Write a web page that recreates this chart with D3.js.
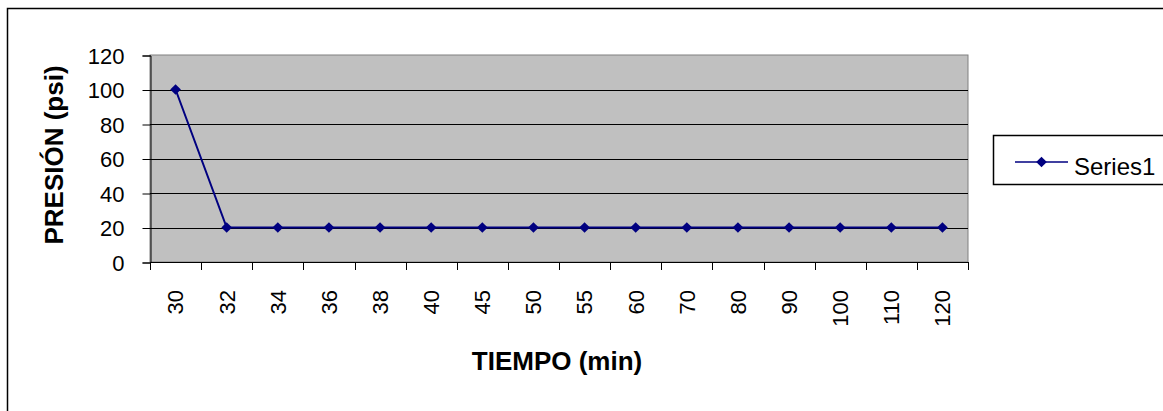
<!DOCTYPE html>
<html>
<head>
<meta charset="utf-8">
<script src="https://cdn.jsdelivr.net/npm/d3@7"></script>
<style>
  html, body { margin: 0; padding: 0; background: #fff; }
  svg { display: block; }
  text { font-family: "Liberation Sans", Arial, sans-serif; fill: #000; }
</style>
</head>
<body>
<svg id="chart" width="1163" height="411"></svg>
<script>
// Pressure readings over time
const tiempos = ["30", "32", "34", "36", "38", "40", "45", "50", "55", "60", "70", "80", "90", "100", "110", "120"];
const presion = [100, 20, 20, 20, 20, 20, 20, 20, 20, 20, 20, 20, 20, 20, 20, 20];
const yTicks = [0, 20, 40, 60, 80, 100, 120];
const seriesName = "Series1";
const xTitle = "TIEMPO (min)";
const yTitle = "PRESIÓN (psi)";

const svg = d3.select("#chart");

// outer chart frame (runs off the right and bottom edges)
svg.append("rect")
  .attr("x", 7.5).attr("y", 8.5)
  .attr("width", 1200).attr("height", 450)
  .attr("fill", "#fff").attr("stroke", "#000").attr("stroke-width", 1.5);

const plot = { left: 150, right: 968, top: 55, bottom: 262 };

const x = d3.scaleBand().domain(tiempos).range([plot.left, plot.right]).paddingInner(0).paddingOuter(0);
const y = d3.scaleLinear().domain([0, 120]).range([plot.bottom, plot.top]);

// plot area background
svg.append("rect")
  .attr("x", plot.left).attr("y", plot.top)
  .attr("width", plot.right - plot.left).attr("height", plot.bottom - plot.top)
  .attr("fill", "#C0C0C0").attr("stroke", "#808080").attr("stroke-width", 1);

// horizontal gridlines
svg.append("g")
  .selectAll("line")
  .data(yTicks.filter(d => d > 0 && d < 120))
  .join("line")
  .attr("x1", plot.left).attr("x2", plot.right)
  .attr("y1", d => Math.round(y(d)) + 0.5).attr("y2", d => Math.round(y(d)) + 0.5)
  .attr("stroke", "#000").attr("stroke-width", 1);

// y axis
const yAxis = d3.axisLeft(y).tickValues(yTicks).tickSize(8).tickPadding(18);
const gy = svg.append("g")
  .attr("transform", `translate(${plot.left + 0.5},0.5)`)
  .call(yAxis);
gy.select(".domain").attr("stroke", "#000");
gy.selectAll(".tick line").attr("stroke", "#000");
gy.selectAll(".tick text")
  .attr("font-family", "Liberation Sans, Arial, sans-serif")
  .attr("font-size", 22).attr("fill", "#000").attr("dy", "0.36em");

// x axis line and category boundary ticks
const gx = svg.append("g");
gx.append("line")
  .attr("x1", plot.left).attr("x2", plot.right)
  .attr("y1", plot.bottom + 0.5).attr("y2", plot.bottom + 0.5)
  .attr("stroke", "#000");
const bounds = tiempos.map(t => x(t)).concat([x(tiempos[tiempos.length - 1]) + x.bandwidth()]);
gx.selectAll("line.tk")
  .data(bounds)
  .join("line")
  .attr("class", "tk")
  .attr("x1", d => Math.round(d) + 0.5).attr("x2", d => Math.round(d) + 0.5)
  .attr("y1", plot.bottom).attr("y2", plot.bottom + 8)
  .attr("stroke", "#000");

// rotated category labels
gx.selectAll("text")
  .data(tiempos)
  .join("text")
  .attr("transform", d => `translate(${x(d) + x.bandwidth() / 2},290) rotate(-90)`)
  .attr("dy", "0.36em")
  .attr("text-anchor", "end")
  .attr("font-size", 22)
  .text(d => d);

// series line
const line = d3.line()
  .x((d, i) => x(tiempos[i]) + x.bandwidth() / 2)
  .y(d => y(d));
svg.append("path")
  .datum(presion)
  .attr("d", line)
  .attr("fill", "none")
  .attr("stroke", "#000080")
  .attr("stroke-width", 2);

// diamond markers
const diamond = d3.symbol().type(d3.symbolDiamond2).size(72);
svg.append("g")
  .selectAll("path")
  .data(presion)
  .join("path")
  .attr("transform", (d, i) => `translate(${x(tiempos[i]) + x.bandwidth() / 2},${y(d)})`)
  .attr("d", diamond)
  .attr("fill", "#000080");

// axis titles
svg.append("text")
  .attr("x", 557).attr("y", 370)
  .attr("text-anchor", "middle")
  .attr("font-size", 26).attr("font-weight", "bold")
  .text(xTitle);

svg.append("text")
  .attr("transform", "translate(63,155) rotate(-90)")
  .attr("text-anchor", "middle")
  .attr("font-size", 26).attr("font-weight", "bold")
  .text(yTitle);

// legend
const lg = svg.append("g");
lg.append("rect")
  .attr("x", 993.5).attr("y", 135.5)
  .attr("width", 250).attr("height", 49)
  .attr("fill", "#fff").attr("stroke", "#000").attr("stroke-width", 1.5);
lg.append("line")
  .attr("x1", 1015).attr("x2", 1068)
  .attr("y1", 162).attr("y2", 162)
  .attr("stroke", "#000080").attr("stroke-width", 1.6);
lg.append("path")
  .attr("transform", "translate(1041.5,162)")
  .attr("d", diamond)
  .attr("fill", "#000080");
lg.append("text")
  .attr("x", 1074).attr("y", 175)
  .attr("font-size", 24)
  .text(seriesName);
</script>
</body>
</html>
